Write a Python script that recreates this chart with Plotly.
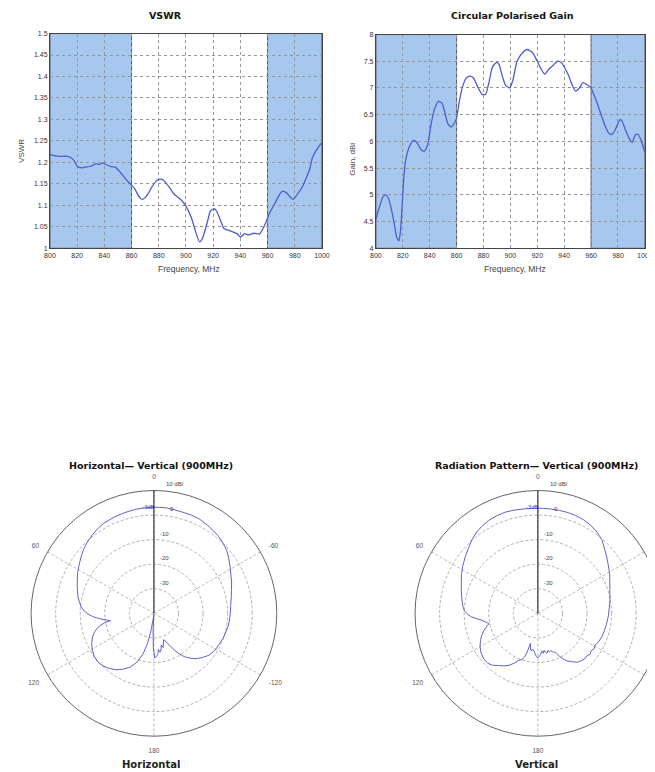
import plotly.graph_objects as go

# ---------------- data ----------------
FREQ_TICKS = [800, 820, 840, 860, 880, 900, 920, 940, 960, 980, 1000]
FREQ_TICK_TEXT = ["800", "820", "840", "860", "880", "900", "920", "940", "960", "980", "1000"]

VSWR_TICKS = [1.0, 1.05, 1.1, 1.15, 1.2, 1.25, 1.3, 1.35, 1.4, 1.45, 1.5]
VSWR_TICK_TEXT = ["1", "1.05", "1.1", "1.15", "1.2", "1.25", "1.3", "1.35", "1.4", "1.45", "1.5"]

GAIN_TICKS = [4, 4.5, 5, 5.5, 6, 6.5, 7, 7.5, 8]
GAIN_TICK_TEXT = ["4", "4.5", "5", "5.5", "6", "6.5", "7", "7.5", "8"]

BANDS = [(800, 860), (960, 1000)]

VSWR_FREQ = [800, 803, 807, 813, 817, 820, 823, 826, 830, 834, 836, 839, 841, 845, 848,
             852, 856, 860, 862, 866, 868, 870, 872, 875, 879, 882, 884, 888, 891, 896,
             900, 904, 907, 910, 912, 916, 918, 921, 923, 926, 928, 933, 938, 940, 943,
             946, 950, 954, 956, 959, 961, 965, 969, 971, 974, 977, 979, 982, 986, 988,
             991, 993, 997, 1000]
VSWR_VALUES = [1.218, 1.216, 1.214, 1.214, 1.207, 1.191, 1.187, 1.189, 1.191, 1.197, 1.195,
               1.199, 1.195, 1.190, 1.189, 1.176, 1.160, 1.147, 1.140, 1.118, 1.114, 1.118,
               1.126, 1.143, 1.159, 1.161, 1.157, 1.141, 1.127, 1.114, 1.098, 1.071, 1.040,
               1.015, 1.022, 1.064, 1.087, 1.092, 1.084, 1.060, 1.046, 1.040, 1.033, 1.026,
               1.034, 1.031, 1.035, 1.033, 1.042, 1.062, 1.079, 1.102, 1.126, 1.133, 1.129,
               1.118, 1.114, 1.126, 1.145, 1.160, 1.184, 1.211, 1.234, 1.246]

GAIN_FREQ = [800, 802.5, 805, 807, 809, 811, 813.5, 815.5, 817, 818, 819.3, 820.5, 822,
             825, 828, 830.5, 833.5, 836, 838.5, 841, 843.5, 846.5, 849, 851, 853.5, 856,
             858.5, 860, 862, 864.5, 867, 870, 872.5, 875.5, 879, 881.5, 884, 886.5, 889.5,
             891.5, 894, 896.5, 899.5, 902, 905, 909, 912.5, 916.5, 920, 923, 925.5, 928.5,
             932, 935, 938, 941, 943.5, 946, 948.5, 951, 954, 956.5, 960, 962, 964.5,
             967.5, 970, 973, 975.5, 978, 981.5, 983, 985.5, 988, 990.5, 993, 995, 997.5,
             1000]
GAIN_VALUES = [4.54, 4.76, 4.95, 5.00, 4.95, 4.79, 4.48, 4.20, 4.14, 4.26, 4.70, 5.23,
               5.63, 5.91, 6.02, 5.98, 5.85, 5.82, 5.94, 6.32, 6.60, 6.75, 6.72, 6.57,
               6.33, 6.27, 6.35, 6.44, 6.75, 7.03, 7.18, 7.22, 7.19, 7.03, 6.88, 6.88,
               7.10, 7.38, 7.48, 7.44, 7.22, 7.05, 7.00, 7.16, 7.50, 7.66, 7.72, 7.66,
               7.50, 7.35, 7.26, 7.35, 7.43, 7.50, 7.47, 7.35, 7.22, 7.05, 6.94, 6.99,
               7.10, 7.07, 7.00, 6.88, 6.72, 6.50, 6.32, 6.16, 6.13, 6.22, 6.41, 6.38,
               6.22, 6.07, 5.98, 6.13, 6.13, 6.00, 5.79]

H_ANGLE = [0, 5, 10, 16, 22, 29, 34, 38, 43, 47, 52, 57, 62, 67, 72, 78, 82, 85, 88, 90.5,
           93, 95.5, 98, 99.5, 101, 103, 107, 111, 116, 121, 126, 131, 136, 141, 146, 151,
           156, 161, 165, 168, 170, 172.5, 175, 177, 179, 181, 183.5, 185.5, 187, 189, 191,
           193, 195, 197.5, 200, 202, 204, 206, 209, 212, 215, 219, 223, 228, 233, 239, 245,
           250, 256, 261, 266, 271, 276, 282, 287, 292, 297, 302, 307, 311, 315, 320, 324,
           329, 334, 339, 344, 349, 353, 357, 360]
H_GAIN_DB = [3.2, 3.1, 3.0, 2.7, 2.4, 2.0, 1.3, 0.6, -0.3, -1.1, -2.4, -3.7, -4.8, -6.1, -7.2,
             -8.4, -9.5, -10.3, -11.6, -13.1, -15.0, -17.7, -20.5, -22.0, -19.5, -17.2, -14.8,
             -13.2, -11.8, -10.8, -10.0, -9.8, -10.2, -11.2, -12.3, -14.0, -16.0, -19.0, -23.0,
             -27.5, -32.0, -38.0, -39.5, -33.0, -26.0, -21.8, -22.6, -23.2, -25.2, -24.0,
             -24.8, -26.8, -25.6, -27.2, -28.6, -28.0, -27.0, -25.5, -23.0, -20.5, -18.5,
             -16.5, -14.8, -13.2, -11.8, -11.0, -10.6, -10.1, -9.7, -9.3, -9.1, -8.9, -8.6,
             -7.8, -7.0, -5.9, -4.9, -3.5, -2.0, -0.8, 0.0, 0.9, 1.4, 2.0, 2.6, 2.8, 2.8, 3.0,
             3.2, 3.2, 3.2]

V_ANGLE = [0, 4, 8, 13, 18, 23, 28, 33, 37, 42, 47, 52, 58, 63, 68, 74, 80, 85, 88, 91, 93,
           95, 97, 100, 102, 104, 108, 112, 116, 120, 125, 130, 135, 139, 143, 147, 151, 155,
           158, 161, 163, 164.5, 166, 168, 170, 172, 174, 176, 178, 180, 182, 184, 186, 188,
           189.5, 191, 193, 195, 197, 199, 201, 203, 205, 207, 209.5, 212, 215, 219, 223,
           226, 229, 232, 235, 238, 241, 245, 250, 256, 262, 268, 275, 281, 288, 294, 299,
           305, 310, 315, 319, 324, 329, 334, 339, 344, 348, 353, 357, 360]
V_GAIN_DB = [2.8, 2.8, 2.9, 3.1, 3.3, 3.1, 2.8, 2.1, 1.4, 0.2, -1.3, -2.5, -3.9, -5.1, -6.4,
             -7.6, -8.6, -9.4, -10.1, -11.5, -12.9, -15.0, -17.0, -18.8, -19.7, -18.6, -16.8,
             -15.2, -14.0, -12.8, -11.8, -11.2, -11.2, -12.0, -13.4, -14.5, -15.8, -17.8,
             -19.4, -20.2, -21.5, -23.5, -27.4, -25.5, -24.4, -25.2, -24.6, -23.5, -22.4,
             -21.9, -22.6, -23.3, -24.6, -23.6, -24.8, -23.9, -23.4, -24.4, -23.6, -24.0,
             -23.2, -22.9, -22.0, -20.2, -18.4, -17.1, -16.0, -14.4, -13.8, -13.4, -13.6,
             -13.0, -13.5, -12.9, -13.4, -12.7, -12.3, -12.0, -11.7, -11.3, -10.8, -10.1,
             -9.2, -8.0, -6.6, -5.1, -3.6, -1.9, -0.3, 0.9, 1.8, 2.4, 2.7, 2.8, 2.8, 2.8,
             2.8, 2.8]

RADIAL_RANGE = [-40, 10]
RADIAL_GRID = [-30, -20, -10, 0]
RADIAL_LABEL_VALUES = [10, 0, -10, -20, -30]
RADIAL_LABELS = ["10 dBi", "0", "-10", "-20", "-30"]
ANGLE_TICKS = [0, 60, 120, 180, 240, 300]
ANGLE_TICK_TEXT = ["0", "60", "120", "180", "-120", "-60"]
BEAM_MARK_DB = [3.2]
BEAM_MARK_TEXT = ["-3dB"]

# ---------------- styling / layout ----------------
PAGE_MARGIN = 8               # default browser body margin around the plot div
FW, FH = 662, 764
# empirical correction between intended and photographed pixel positions
SX, CX = 0.979, 5.2
SY, CY = 0.992, 3.0

# polar subplot geometry (target pixels): centre x, centre y, radius
POLAR_GEOM = {"polar": (153, 613, 123), "polar2": (537, 613, 123)}
LABEL_R_SHIFT = 2.5                      # radial labels sit a little outside their ring (dB)
LABEL_X_SHIFT = [10, 14, 4.5, 4.5, 4.5]  # px to the right of the radial axis

LINE_BLUE = "#4e5ccf"
PATTERN_BLUE = "#5050c8"
BAND_FILL = "#a6c8ef"
TICK_FONT = dict(family="Liberation Sans, Arial, sans-serif", size=7, color="#333")
TITLE_FONT = dict(family="DejaVu Sans, Verdana, sans-serif", size=9.5, color="#111")
LABEL_FONT = dict(family="Liberation Sans, Arial, sans-serif", size=8.5, color="#444")
RLABEL_FONT = dict(family="Liberation Sans, Arial, sans-serif", size=6, color="#444")
CAPTION_FONT = dict(family="DejaVu Sans, Verdana, sans-serif", size=10, color="#222")


def px(x):
    """target window pixel x -> paper fraction"""
    xi = (x - CX) / SX
    return (xi - PAGE_MARGIN) / FW


def py(y):
    """target window pixel y (from top) -> paper fraction"""
    yi = (y - CY) / SY
    return 1 - (yi - PAGE_MARGIN) / FH


fig = go.Figure()

fig.add_trace(go.Scatter(x=VSWR_FREQ, y=VSWR_VALUES, mode="lines",
                         line=dict(color=LINE_BLUE, width=1.3, shape="spline", smoothing=0.6),
                         xaxis="x", yaxis="y", hoverinfo="x+y"))
fig.add_trace(go.Scatter(x=GAIN_FREQ, y=GAIN_VALUES, mode="lines",
                         line=dict(color=LINE_BLUE, width=1.3, shape="spline", smoothing=0.6),
                         xaxis="x2", yaxis="y2", hoverinfo="x+y"))

annotations = []
for pid, ang, val in (("polar", H_ANGLE, H_GAIN_DB), ("polar2", V_ANGLE, V_GAIN_DB)):
    fig.add_trace(go.Scatterpolar(theta=ang, r=val, mode="lines", subplot=pid,
                                  line=dict(color=PATTERN_BLUE, width=0.9)))
    fig.add_trace(go.Scatterpolar(theta=[0], r=BEAM_MARK_DB, text=BEAM_MARK_TEXT, mode="text",
                                  subplot=pid, textposition="middle left", cliponaxis=False,
                                  textfont=dict(family="Liberation Sans, Arial", size=5.5,
                                                color="#3b3bd0"),
                                  hoverinfo="skip"))
    cx, cy, rad = POLAR_GEOM[pid]
    span = RADIAL_RANGE[1] - RADIAL_RANGE[0]
    for v, lab, dx in zip(RADIAL_LABEL_VALUES, RADIAL_LABELS, LABEL_X_SHIFT):
        rpx = (v + LABEL_R_SHIFT - RADIAL_RANGE[0]) / span * rad
        annotations.append(dict(text=lab, x=px(cx + dx), y=py(cy - rpx), xanchor="left",
                                yanchor="middle", font=RLABEL_FONT))

axis_common = dict(showgrid=True, gridcolor="#969696", griddash="dot", gridwidth=0.7,
                   showline=True, mirror=True, linecolor="#444", linewidth=1,
                   zeroline=False, ticks="", tickfont=TICK_FONT, fixedrange=True)

shapes = []
for xr, yr in (("x", "y"), ("x2", "y2")):
    for lo, hi in BANDS:
        shapes.append(dict(type="rect", xref=xr, yref=yr + " domain",
                           x0=lo, x1=hi, y0=0, y1=1, fillcolor=BAND_FILL,
                           line=dict(color="#555", width=1), layer="below"))

polar_common = dict(
    bgcolor="white",
    radialaxis=dict(range=RADIAL_RANGE, tickvals=RADIAL_GRID, showticklabels=False, ticks="",
                    showline=True, linecolor="#111", linewidth=1, angle=90,
                    gridcolor="#b0b0b0", griddash="3px,2px", gridwidth=0.8),
    angularaxis=dict(rotation=90, direction="counterclockwise", tickvals=ANGLE_TICKS,
                     ticktext=ANGLE_TICK_TEXT, ticks="outside", ticklen=8,
                     tickcolor="rgba(0,0,0,0)",
                     tickfont=dict(family="Liberation Sans, Arial", size=6.5, color="#555"),
                     showline=True, linecolor="#666", linewidth=1,
                     gridcolor="#bababa", griddash="3px,2px", gridwidth=0.8),
)


def polar_domain(pid):
    cx, cy, rad = POLAR_GEOM[pid]
    return dict(x=[px(cx - rad), px(cx + rad)], y=[py(cy + rad), py(cy - rad)])


annotations += [
    dict(text="<b>VSWR</b>", x=px(165), y=py(14), font=TITLE_FONT),
    dict(text="<b>Circular Polarised Gain</b>", x=px(512), y=py(14), font=TITLE_FONT),
    dict(text="Frequency, MHz", x=px(188), y=py(268), font=LABEL_FONT),
    dict(text="Frequency, MHz", x=px(514), y=py(268), font=LABEL_FONT),
    dict(text="VSWR", x=px(21), y=py(150), textangle=-90,
         font=dict(family="Liberation Sans, Arial", size=8, color="#444")),
    dict(text="Gain, dBi", x=px(352), y=py(158), textangle=-90,
         font=dict(family="Liberation Sans, Arial", size=8, color="#444")),
    dict(text="<b>Horizontal\u2014 Vertical (900MHz)</b>", x=px(150), y=py(465), font=TITLE_FONT),
    dict(text="<b>Radiation Pattern\u2014 Vertical (900MHz)</b>", x=px(536), y=py(465),
         font=TITLE_FONT),
    dict(text="<b>Horizontal</b>", x=px(150), y=py(764), font=CAPTION_FONT),
    dict(text="<b>Vertical</b>", x=px(536), y=py(764), font=CAPTION_FONT),
]
for a in annotations:
    a.update(xref="paper", yref="paper", showarrow=False)
    a.setdefault("xanchor", "center")
    a.setdefault("yanchor", "middle")

fig.update_layout(
    width=FW, height=FH, margin=dict(l=0, r=0, t=0, b=0),
    paper_bgcolor="white", plot_bgcolor="white", showlegend=False,
    xaxis=dict(domain=[px(49), px(321)], range=[800, 1000], tickvals=FREQ_TICKS,
               ticktext=FREQ_TICK_TEXT, anchor="y", **axis_common),
    yaxis=dict(domain=[py(247.5), py(32.5)], range=[1, 1.5], tickvals=VSWR_TICKS,
               ticktext=VSWR_TICK_TEXT, anchor="x", **axis_common),
    xaxis2=dict(domain=[px(375), px(644)], range=[800, 1000], tickvals=FREQ_TICKS,
                ticktext=FREQ_TICK_TEXT, anchor="y2", **axis_common),
    yaxis2=dict(domain=[py(247.5), py(33.5)], range=[4, 8], tickvals=GAIN_TICKS,
                ticktext=GAIN_TICK_TEXT, anchor="x2", **axis_common),
    polar=dict(domain=polar_domain("polar"), **polar_common),
    polar2=dict(domain=polar_domain("polar2"), **polar_common),
    shapes=shapes,
    annotations=annotations,
)

fig.write_html("out.html")
